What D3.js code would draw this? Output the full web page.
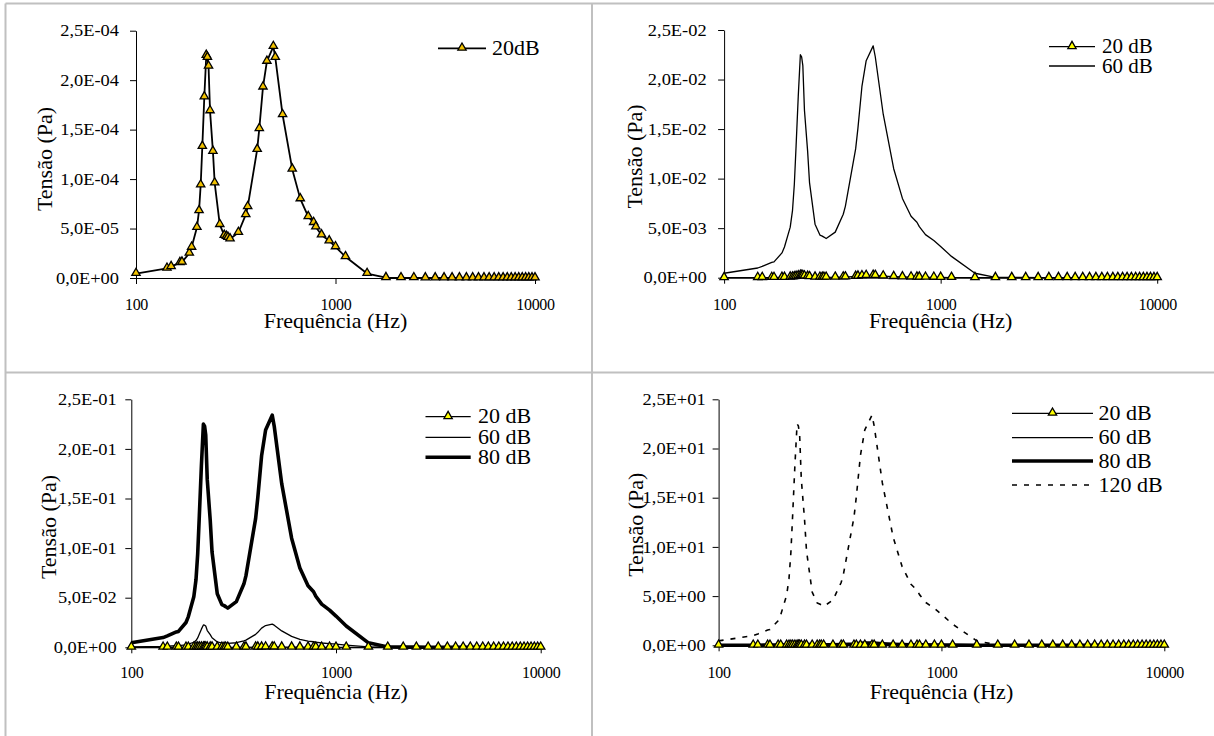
<!DOCTYPE html>
<html>
<head>
<meta charset="utf-8">
<script src="https://cdn.jsdelivr.net/npm/d3@7"></script>
<style>
  body { margin: 0; background: #fff; }
</style>
</head>
<body>
<svg id="fig" width="1214" height="736"></svg>
<script>
// Excitation frequencies (Hz)
const freqHz = [100, 143, 150, 166, 170, 185, 190, 202, 207, 211, 215, 220, 225, 228, 231, 235,
  243, 248, 263, 277, 284, 289, 296, 326, 355, 363, 405, 415, 433, 453, 488, 499, 543, 607, 666,
  730, 777, 797, 851, 930, 1000, 1122, 1440, 1790, 2130, 2470, 2820, 3160, 3500, 3840, 4180, 4530,
  4870, 5210, 5550, 5890, 6240, 6580, 6920, 7260, 7600, 7950, 8290, 8630, 8970, 9310, 9660, 10000];

// Response amplitude (Pa) for each excitation level
const tension20dB = [4.5e-6, 9.8e-6, 1.15e-5, 1.55e-5, 1.6e-5, 2.5e-5, 3.1e-5, 5.1e-5, 6.8e-5, 9.4e-5,
  1.33e-4, 1.83e-4, 2.25e-4, 2.23e-4, 2.14e-4, 1.69e-4, 1.28e-4, 9.6e-5, 5.4e-5, 4.3e-5, 4.2e-5, 4.1e-5,
  3.95e-5, 4.6e-5, 6.4e-5, 7.2e-5, 1.3e-4, 1.51e-4, 1.93e-4, 2.19e-4, 2.34e-4, 2.23e-4, 1.65e-4, 1.1e-4,
  8.0e-5, 6.2e-5, 5.6e-5, 5.15e-5, 4.35e-5, 3.75e-5, 3.15e-5, 2.15e-5, 4.5e-6, 3e-7, 2e-7, 2e-7, 1e-7,
  1e-7, 1e-7, 1e-7, 1e-7, 1e-7, 1e-7, 1e-7, 1e-7, 5e-8, 5e-8, 5e-8, 5e-8, 5e-8, 5e-8, 5e-8, 5e-8,
  5e-8, 5e-8, 5e-8, 5e-8, 5e-8];

const tension60dB = [4.5e-4, 9.8e-4, 1.15e-3, 1.55e-3, 1.6e-3, 2.5e-3, 3.1e-3, 5.1e-3, 6.8e-3, 9.4e-3,
  1.33e-2, 1.83e-2, 2.25e-2, 2.23e-2, 2.14e-2, 1.69e-2, 1.28e-2, 9.6e-3, 5.4e-3, 4.3e-3, 4.2e-3, 4.1e-3,
  3.95e-3, 4.6e-3, 6.4e-3, 7.2e-3, 1.3e-2, 1.51e-2, 1.93e-2, 2.19e-2, 2.34e-2, 2.23e-2, 1.65e-2, 1.1e-2,
  8.0e-3, 6.2e-3, 5.6e-3, 5.15e-3, 4.35e-3, 3.75e-3, 3.15e-3, 2.15e-3, 4.5e-4, 3e-5, 2e-5, 2e-5, 1e-5,
  1e-5, 1e-5, 1e-5, 1e-5, 1e-5, 1e-5, 1e-5, 1e-5, 5e-6, 5e-6, 5e-6, 5e-6, 5e-6, 5e-6, 5e-6, 5e-6,
  5e-6, 5e-6, 5e-6, 5e-6, 5e-6];

const tension80dB = [4.5e-3, 9.8e-3, 1.15e-2, 1.55e-2, 1.6e-2, 2.5e-2, 3.1e-2, 5.1e-2, 6.8e-2, 9.4e-2,
  1.33e-1, 1.83e-1, 2.25e-1, 2.23e-1, 2.14e-1, 1.69e-1, 1.28e-1, 9.6e-2, 5.4e-2, 4.3e-2, 4.2e-2, 4.1e-2,
  3.95e-2, 4.6e-2, 6.4e-2, 7.2e-2, 1.3e-1, 1.51e-1, 1.93e-1, 2.19e-1, 2.34e-1, 2.23e-1, 1.65e-1, 1.1e-1,
  8.0e-2, 6.2e-2, 5.6e-2, 5.15e-2, 4.35e-2, 3.75e-2, 3.15e-2, 2.15e-2, 4.5e-3, 3e-4, 2e-4, 2e-4, 1e-4,
  1e-4, 1e-4, 1e-4, 1e-4, 1e-4, 1e-4, 1e-4, 1e-4, 5e-5, 5e-5, 5e-5, 5e-5, 5e-5, 5e-5, 5e-5, 5e-5,
  5e-5, 5e-5, 5e-5, 5e-5, 5e-5];

const tension120dB = [0.45, 0.98, 1.15, 1.55, 1.6, 2.5, 3.1, 5.1, 6.8, 9.4,
  13.3, 18.3, 22.5, 22.3, 21.4, 16.9, 12.8, 9.6, 5.4, 4.3, 4.2, 4.1,
  3.95, 4.6, 6.4, 7.2, 13.0, 15.1, 19.3, 21.9, 23.4, 22.3, 16.5, 11.0,
  8.0, 6.2, 5.6, 5.15, 4.35, 3.75, 3.15, 2.15, 0.45, 0.03, 0.02, 0.02, 0.01,
  0.01, 0.01, 0.01, 0.01, 0.01, 0.01, 0.01, 0.01, 0.005, 0.005, 0.005, 0.005, 0.005, 0.005, 0.005, 0.005,
  0.005, 0.005, 0.005, 0.005, 0.005];

// Axis ticks and labels
const freqTicks = [100, 1000, 10000];
const freqTickLabels = ["100", "1000", "10000"];
const ticksA = [0, 5e-5, 1e-4, 1.5e-4, 2e-4, 2.5e-4];
const labelsA = ["0,0E+00", "5,0E-05", "1,0E-04", "1,5E-04", "2,0E-04", "2,5E-04"];
const ticksB = [0, 5e-3, 1e-2, 1.5e-2, 2e-2, 2.5e-2];
const labelsB = ["0,0E+00", "5,0E-03", "1,0E-02", "1,5E-02", "2,0E-02", "2,5E-02"];
const ticksC = [0, 5e-2, 1e-1, 1.5e-1, 2e-1, 2.5e-1];
const labelsC = ["0,0E+00", "5,0E-02", "1,0E-01", "1,5E-01", "2,0E-01", "2,5E-01"];
const ticksD = [0, 5, 10, 15, 20, 25];
const labelsD = ["0,0E+00", "5,0E+00", "1,0E+01", "1,5E+01", "2,0E+01", "2,5E+01"];

const xTitle = "Frequência (Hz)";
const yTitle = "Tensão (Pa)";

const FONT = "'Liberation Serif', 'Times New Roman', 'DejaVu Serif', serif";

// Series styles
const s20 = (label, fill, w) => ({ label, values: tension20dB, width: w, dash: null, markers: true, fill });
const s60 = { label: "60 dB", values: tension60dB, width: 1.3, dash: null, markers: false };
const s80 = { label: "80 dB", values: tension80dB, width: 3.6, dash: null, markers: false };
const s120 = { label: "120 dB", values: tension120dB, width: 1.6, dash: "5,7", markers: false };

const panels = [
  { xr: [136, 535], yr: [278, 30.7], ticks: ticksA, labels: labelsA, gap: 17,
    xLabY: 310, xTitleY: 327.5, yTitleX: 52, yTitleY: 159,
    series: [s20("20dB", "#f2c200", 1.8)],
    leg: { x0: 438, x1: 486, tx: 492, ys: [48.3], size: 22 } },
  { xr: [724.1, 1157.2], yr: [277.7, 30], ticks: ticksB, labels: labelsB, gap: 17.5,
    xLabY: 310, xTitleY: 327.5, yTitleX: 642, yTitleY: 156.5,
    series: [s60, s20("20 dB", "#ffff00", 1.2)],
    leg: { x0: 1049, x1: 1095, tx: 1102, ys: [46.7, 66], size: 21, order: [1, 0] } },
  { xr: [131.3, 540.7], yr: [647.3, 399.3], ticks: ticksC, labels: labelsC, gap: 14.6,
    xLabY: 678.5, xTitleY: 698.5, yTitleX: 56, yTitleY: 527,
    series: [s80, s60, s20("20 dB", "#ffff00", 1.2)],
    leg: { x0: 425.5, x1: 470.7, tx: 478, ys: [416.7, 437.3, 457.3], size: 22, order: [2, 1, 0] } },
  { xr: [718.6, 1164.3], yr: [645.3, 399.3], ticks: ticksD, labels: labelsD, gap: 13,
    xLabY: 678.5, xTitleY: 698.5, yTitleX: 643, yTitleY: 524.7,
    series: [s80, s60, s120, s20("20 dB", "#ffff00", 1.2)],
    leg: { x0: 1012, x1: 1093, tx: 1098.5, ys: [413.3, 437.7, 461, 485], size: 22, order: [3, 1, 0, 2] } }
];

const svg = d3.select("#fig").style("font-family", FONT);
svg.append("rect").attr("width", 1214).attr("height", 736).attr("fill", "#fff");

// Grey frame separating the four charts
const frame = svg.append("g").attr("stroke", "#c0c0c0").attr("stroke-width", 2).attr("fill", "none");
frame.append("line").attr("x1", 5.5).attr("y1", 3.5).attr("x2", 1214).attr("y2", 3.5);
frame.append("line").attr("x1", 5.5).attr("y1", 3.5).attr("x2", 5.5).attr("y2", 736);
frame.append("line").attr("x1", 592).attr("y1", 3.5).attr("x2", 592).attr("y2", 736);
frame.append("line").attr("x1", 5.5).attr("y1", 372.5).attr("x2", 1214).attr("y2", 372.5);

const tri = d3.symbol().type(d3.symbolTriangle).size(30);
const yLabelStretch = 1.15;

panels.forEach(p => {
  const g = svg.append("g");
  const x = d3.scaleLog().domain([100, 10000]).range(p.xr);
  const y = d3.scaleLinear().domain([p.ticks[0], p.ticks[p.ticks.length - 1]]).range(p.yr);

  // y axis
  const ya = g.append("g").attr("transform", `translate(${p.xr[0]},0)`)
    .call(d3.axisLeft(y).tickValues(p.ticks).tickFormat((d, i) => p.labels[i])
      .tickSize(6).tickSizeOuter(0));
  ya.attr("font-family", FONT).attr("font-size", 16);
  ya.select(".domain").attr("stroke", "#000").attr("stroke-width", 1);
  ya.selectAll(".tick line").attr("stroke", "#000");
  ya.selectAll(".tick text")
    .attr("x", 0).attr("dy", "0.32em").attr("fill", "#000")
    .attr("transform", `translate(${-p.gap},0) scale(${yLabelStretch},1)`)
    .style("font-family", FONT).style("font-size", "16px");

  // x axis
  const xa = g.append("g").attr("transform", `translate(0,${p.yr[0]})`)
    .call(d3.axisBottom(x).tickValues(freqTicks).tickFormat((d, i) => freqTickLabels[i])
      .tickSize(6).tickSizeOuter(0));
  xa.attr("font-family", FONT).attr("font-size", 16);
  xa.select(".domain").attr("stroke", "#000").attr("stroke-width", 1);
  xa.selectAll(".tick line").attr("stroke", "#000");
  xa.selectAll(".tick text").attr("y", p.xLabY - p.yr[0]).attr("dy", 0).attr("fill", "#000")
    .style("font-family", FONT).style("font-size", "16px").style("letter-spacing", "-0.3px");

  // axis titles
  g.append("text").attr("x", (p.xr[0] + p.xr[1]) / 2).attr("y", p.xTitleY)
    .attr("text-anchor", "middle").style("font-family", FONT).style("font-size", "22px").text(xTitle);
  g.append("text").attr("transform", `translate(${p.yTitleX},${p.yTitleY}) rotate(-90)`)
    .attr("text-anchor", "middle").style("font-family", FONT).style("font-size", "22px").text(yTitle);

  // series lines
  const line = d3.line().x((d, i) => x(freqHz[i])).y(d => y(d));
  p.series.forEach(s => {
    g.append("path").datum(s.values).attr("d", line)
      .attr("fill", "none").attr("stroke", "#000").attr("stroke-width", s.width)
      .attr("stroke-linejoin", "round")
      .attr("stroke-dasharray", s.dash);
  });
  // markers on top
  p.series.filter(s => s.markers).forEach(s => {
    g.append("g").selectAll("path").data(s.values).join("path")
      .attr("d", tri)
      .attr("transform", (d, i) => `translate(${x(freqHz[i])},${y(d) - 0.5})`)
      .attr("fill", s.fill).attr("stroke", "#000").attr("stroke-width", 1.3)
      .attr("stroke-linejoin", "miter");
  });

  // legend
  const order = p.leg.order || p.series.map((s, i) => i);
  order.forEach((si, k) => {
    const s = p.series[si];
    const ly = p.leg.ys[k];
    g.append("line").attr("x1", p.leg.x0).attr("x2", p.leg.x1).attr("y1", ly).attr("y2", ly)
      .attr("stroke", "#000").attr("stroke-width", s.width).attr("stroke-dasharray", s.dash);
    if (s.markers) {
      g.append("path").attr("d", tri)
        .attr("transform", `translate(${(p.leg.x0 + p.leg.x1) / 2},${ly - 0.5})`)
        .attr("fill", s.fill).attr("stroke", "#000").attr("stroke-width", 1.3);
    }
    g.append("text").attr("x", p.leg.tx).attr("y", ly + 6.5)
      .style("font-family", FONT).style("font-size", p.leg.size + "px").text(s.label);
  });
});
</script>
</body>
</html>
